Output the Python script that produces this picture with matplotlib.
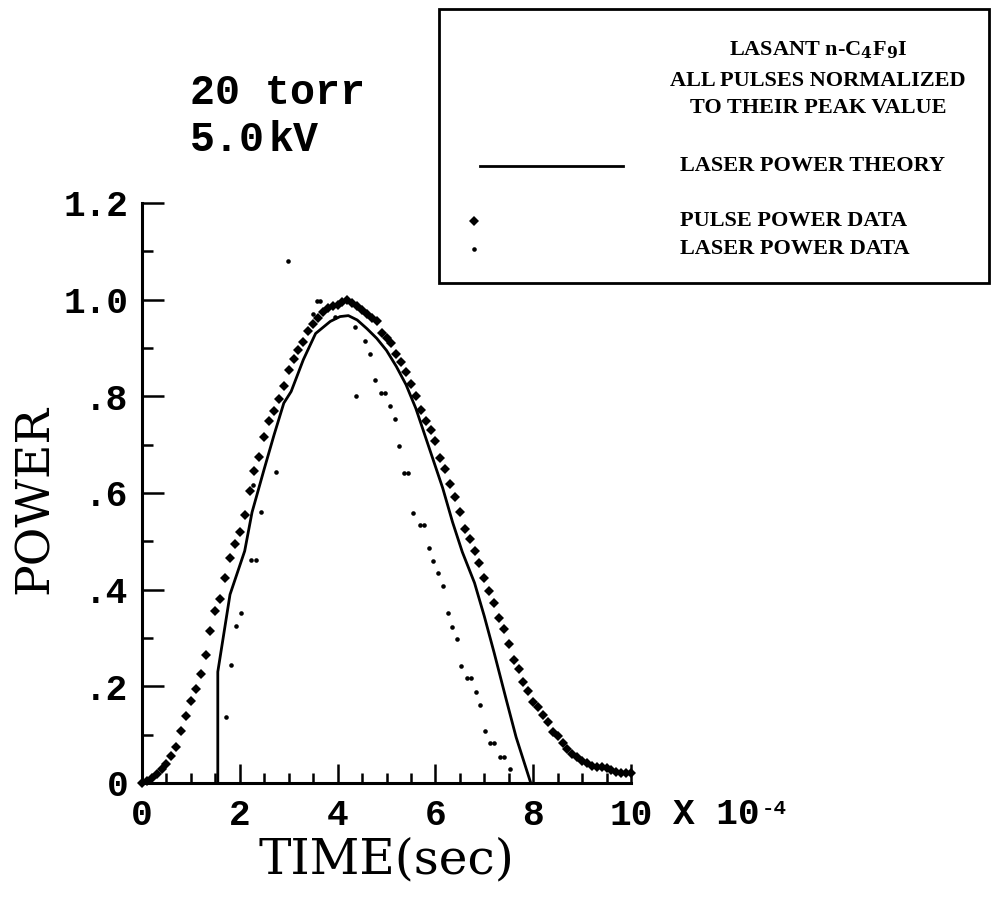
import numpy as np
import matplotlib
matplotlib.use("Agg")
import matplotlib.pyplot as plt
from matplotlib.lines import Line2D
from matplotlib.patches import Rectangle

plt.rcParams['mathtext.fontset'] = 'dejavuserif'

# pulse power data, sampled every 0.1 (x 1e-4 s)
pulse_t = np.round(np.arange(0, 101) * 0.1, 1)
pulse_p = [0.000, 0.005, 0.010, 0.018, 0.028, 0.040, 0.055, 0.075, 0.108, 0.138,
           0.170, 0.195, 0.225, 0.265, 0.315, 0.355, 0.380, 0.425, 0.465, 0.495,
           0.520, 0.555, 0.605, 0.645, 0.675, 0.715, 0.750, 0.770, 0.795, 0.822,
           0.855, 0.877, 0.895, 0.913, 0.935, 0.950, 0.963, 0.975, 0.982, 0.986,
           0.990, 0.995, 1.000, 0.994, 0.987, 0.979, 0.970, 0.962, 0.955, 0.932,
           0.920, 0.911, 0.888, 0.872, 0.851, 0.826, 0.800, 0.772, 0.750, 0.730,
           0.708, 0.673, 0.650, 0.618, 0.592, 0.560, 0.525, 0.505, 0.480, 0.455,
           0.425, 0.398, 0.372, 0.342, 0.318, 0.288, 0.255, 0.235, 0.210, 0.190,
           0.168, 0.157, 0.140, 0.126, 0.106, 0.097, 0.082, 0.070, 0.060, 0.053,
           0.045, 0.041, 0.036, 0.033, 0.033, 0.031, 0.027, 0.022, 0.021, 0.021,
           0.021]

# laser power theory
theory_t = [1.55, 1.55, 1.8, 2.1, 2.25, 2.5, 2.7, 2.9, 3.05, 3.3, 3.55, 3.85, 4.05,
            4.22, 4.4, 4.6, 4.8, 5.0, 5.2, 5.4, 5.6, 5.75, 5.95, 6.15, 6.35, 6.55,
            6.8, 7.0, 7.2, 7.45, 7.65, 7.95]
theory_p = [0.0, 0.23, 0.39, 0.48, 0.56, 0.65, 0.72, 0.786, 0.81, 0.876, 0.93, 0.955,
            0.965, 0.967, 0.958, 0.94, 0.92, 0.895, 0.862, 0.824, 0.775, 0.73, 0.67,
            0.61, 0.54, 0.478, 0.414, 0.345, 0.27, 0.172, 0.095, 0.0]

# laser power data
laser_t = [1.72, 1.82, 1.92, 2.02, 2.23, 2.33, 2.43, 2.26, 2.74, 2.98,
           3.50, 3.57, 3.65, 3.95, 4.36, 4.56, 4.66, 4.76, 4.37, 4.89, 4.97,
           5.07, 5.17, 5.26, 5.36, 5.44, 5.55, 5.68, 5.76, 5.86, 5.96, 6.06,
           6.15, 6.25, 6.33, 6.44, 6.52, 6.64, 6.72, 6.83, 6.91, 7.01, 7.11,
           7.19, 7.32, 7.40, 7.52]
laser_p = [0.137, 0.244, 0.325, 0.352, 0.462, 0.462, 0.561, 0.617, 0.644, 1.079,
           0.970, 0.997, 0.997, 0.965, 0.943, 0.915, 0.888, 0.834, 0.801, 0.807, 0.807,
           0.779, 0.753, 0.698, 0.642, 0.642, 0.559, 0.534, 0.534, 0.487, 0.460, 0.435,
           0.408, 0.352, 0.323, 0.298, 0.242, 0.217, 0.217, 0.188, 0.161, 0.108, 0.083,
           0.083, 0.054, 0.054, 0.030]

x_ticks = [0, 2, 4, 6, 8, 10]
x_labels = ['0', '2', '4', '6', '8', '10']
y_ticks = [0, 0.2, 0.4, 0.6, 0.8, 1.0, 1.2]
y_labels = ['0', '.2', '.4', '.6', '.8', '1.0', '1.2']

W, H = 991, 899
fig = plt.figure(figsize=(W / 100, H / 100), dpi=100)

def fx(px):
    return px / W

def fy(py):
    return 1 - py / H

ax = fig.add_axes([fx(142), fy(783), (631 - 142) / W, (783 - 203) / H])

ax.plot(theory_t, theory_p, color='black', lw=2.0, clip_on=False)
ax.plot(pulse_t, pulse_p, 'D', color='black', ms=5.6, mew=0, clip_on=False)
ax.plot(laser_t, laser_p, 'o', color='black', ms=3.3, mew=0, clip_on=False)

ax.set_xlim(0, 10)
ax.set_ylim(0, 1.2)
for s in ['top', 'right']:
    ax.spines[s].set_visible(False)
for s in ['left', 'bottom']:
    ax.spines[s].set_linewidth(2.2)

ax.set_xticks(x_ticks)
ax.set_xticklabels(x_labels)
ax.set_xticks(np.arange(0, 10.01, 0.5), minor=True)
ax.set_yticks(y_ticks)
ax.set_yticklabels(y_labels)
ax.set_yticks(np.arange(0, 1.21, 0.1), minor=True)

tick_font = {'family': 'Liberation Mono', 'size': 26, 'weight': 'bold'}
for lab in ax.get_xticklabels() + ax.get_yticklabels():
    lab.set_fontfamily('Liberation Mono')
    lab.set_fontsize(26)
    lab.set_fontweight('bold')
ax.tick_params(axis='x', which='major', direction='in', length=14, width=1.8, pad=11)
ax.tick_params(axis='x', which='minor', direction='in', length=7, width=1.8)
ax.tick_params(axis='y', which='major', direction='in', length=16, width=1.8, pad=10)
ax.tick_params(axis='y', which='minor', direction='in', length=8, width=1.8)

ax.set_xlabel('TIME(sec)', fontfamily='DejaVu Serif', fontsize=35, labelpad=2)
fig.text(fx(35), fy(500), 'POWER', rotation=90, ha='center', va='center',
         fontfamily='DejaVu Serif', fontsize=34)

fig.text(fx(673), fy(814), 'X 10', ha='left', va='center', **tick_font)
fig.text(fx(762), fy(809), '-4', ha='left', va='center', fontfamily='Liberation Mono',
         fontsize=15, fontweight='bold')

mono = dict(fontfamily='Liberation Mono', fontsize=30, fontweight='bold')
fig.text(fx(190), fy(93), '20 torr', ha='left', va='center', **mono)
fig.text(fx(190), fy(140), '5.0', ha='left', va='center', **mono)
fig.text(fx(268), fy(140), 'kV', ha='left', va='center', **mono)

# legend box
fig.add_artist(Rectangle((fx(439), fy(283)), (989 - 439) / W, (283 - 9) / H,
                         transform=fig.transFigure, fill=False, lw=2.0, ec='black'))
leg_font = dict(fontfamily='Liberation Serif', fontweight='bold', fontsize=16)
fig.text(fx(818), fy(50), r'LASANT n-C$_{\mathbf{4}}$F$_{\mathbf{9}}$I', ha='center', va='center', **leg_font)
fig.text(fx(818), fy(81), 'ALL PULSES NORMALIZED', ha='center', va='center', **leg_font)
fig.text(fx(818), fy(108), 'TO THEIR PEAK VALUE', ha='center', va='center', **leg_font)
fig.text(fx(680), fy(166), 'LASER POWER THEORY', ha='left', va='center', **leg_font)
fig.text(fx(680), fy(221), 'PULSE POWER DATA', ha='left', va='center', **leg_font)
fig.text(fx(680), fy(249), 'LASER POWER DATA', ha='left', va='center', **leg_font)
fig.add_artist(Line2D([fx(480), fx(623)], [fy(166), fy(166)], transform=fig.transFigure,
                      color='black', lw=2.0))
fig.add_artist(Line2D([fx(474)], [fy(221)], transform=fig.transFigure, marker='D',
                      color='black', ms=5.6, mew=0))
fig.add_artist(Line2D([fx(474)], [fy(249)], transform=fig.transFigure, marker='o',
                      color='black', ms=3.3, mew=0))

fig.savefig('out.png', dpi=100)
